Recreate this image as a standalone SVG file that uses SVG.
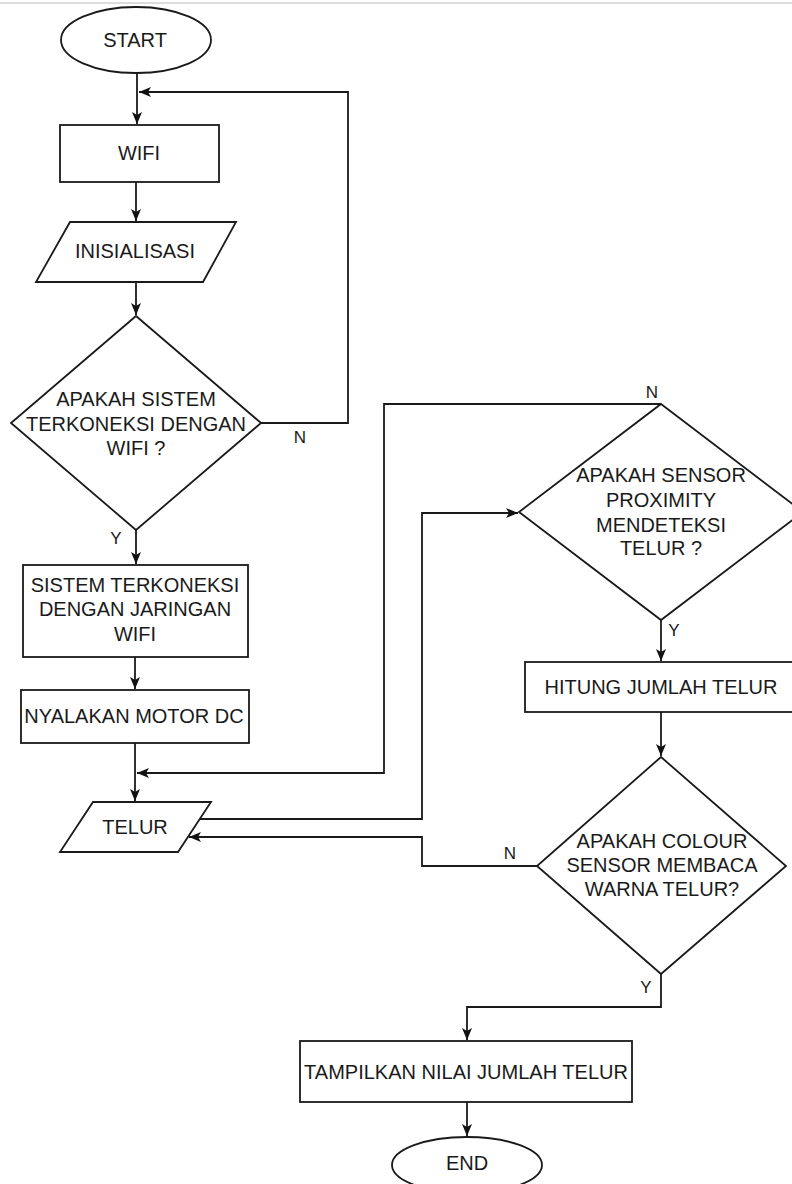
<svg xmlns="http://www.w3.org/2000/svg" width="792" height="1184" viewBox="0 0 792 1184">
<style>
.s{fill:#fff;stroke:#1a1a1a;stroke-width:1.8}
.c{fill:none;stroke:#1a1a1a;stroke-width:1.8}
text{font-family:"Liberation Sans",Arial,sans-serif;font-size:20px;fill:#1a1a1a;text-anchor:middle}
.l{font-size:17px}
</style>
<defs>
<marker id="a" markerWidth="14" markerHeight="12" refX="12" refY="5" orient="auto" markerUnits="userSpaceOnUse">
<path d="M0,0 L12,5 L0,10 L3,5 z" fill="#111"/>
</marker>
</defs>
<rect width="792" height="1184" fill="#fff"/>
<line x1="0" y1="3" x2="792" y2="3" stroke="#dcdcdc" stroke-width="2"/>
<g id="connectors">
<path class="c" d="M137,73 V124" marker-end="url(#a)"/>
<path class="c" d="M261,423 H348 V92 H139" marker-end="url(#a)"/>
<path class="c" d="M136,182 V221" marker-end="url(#a)"/>
<path class="c" d="M136,282 V315" marker-end="url(#a)"/>
<path class="c" d="M136,530 V564" marker-end="url(#a)"/>
<path class="c" d="M135,657 V689" marker-end="url(#a)"/>
<path class="c" d="M135,743 V801" marker-end="url(#a)"/>
<path class="c" d="M661,404 H384 V773 H137" marker-end="url(#a)"/>
<path class="c" d="M200,819 H422 V513 H518" marker-end="url(#a)"/>
<path class="c" d="M537,866 H422 V837 H189" marker-end="url(#a)"/>
<path class="c" d="M661,620 V661" marker-end="url(#a)"/>
<path class="c" d="M661,712 V756" marker-end="url(#a)"/>
<path class="c" d="M661,974 V1007 H467 V1040" marker-end="url(#a)"/>
<path class="c" d="M467,1102 V1136" marker-end="url(#a)"/>
<text class="l" x="300" y="443">N</text>
<text class="l" x="116" y="544">Y</text>
<text class="l" x="652" y="398">N</text>
<text class="l" x="674" y="636">Y</text>
<text class="l" x="510" y="859">N</text>
<text class="l" x="646" y="993">Y</text>
</g>
<g id="start">
<ellipse class="s" cx="136" cy="40" rx="75" ry="33"/>
<text x="135" y="47">START</text>
</g>
<g id="wifi">
<rect class="s" x="60" y="125" width="159" height="57"/>
<text x="139" y="160">WIFI</text>
</g>
<g id="inisialisasi">
<polygon class="s" points="70,222 236,222 203,282 36,282"/>
<text x="135" y="258">INISIALISASI</text>
</g>
<g id="cek-wifi">
<polygon class="s" points="136,316 261,423 136,530 11,423"/>
<text x="136" y="406">APAKAH SISTEM</text>
<text x="136" y="431">TERKONEKSI DENGAN</text>
<text x="136" y="455">WIFI ?</text>
</g>
<g id="terkoneksi">
<rect class="s" x="23" y="565" width="225" height="92"/>
<text x="135" y="592">SISTEM TERKONEKSI</text>
<text x="135" y="616">DENGAN JARINGAN</text>
<text x="135" y="641">WIFI</text>
</g>
<g id="motor">
<rect class="s" x="21" y="690" width="228" height="53"/>
<text x="134" y="723">NYALAKAN MOTOR DC</text>
</g>
<g id="telur">
<polygon class="s" points="93,802 211,802 178,852 60,852"/>
<text x="135" y="834">TELUR</text>
</g>
<g id="cek-proximity">
<polygon class="s" points="661,404 803,512 661,620 519,512"/>
<text x="661" y="482">APAKAH SENSOR</text>
<text x="661" y="507">PROXIMITY</text>
<text x="661" y="532">MENDETEKSI</text>
<text x="661" y="555">TELUR ?</text>
</g>
<g id="hitung">
<rect class="s" x="525" y="662" width="272" height="50"/>
<text x="661" y="694">HITUNG JUMLAH TELUR</text>
</g>
<g id="cek-warna">
<polygon class="s" points="661,757 786,866 661,974 537,866"/>
<text x="662" y="848">APAKAH COLOUR</text>
<text x="662" y="872">SENSOR MEMBACA</text>
<text x="662" y="896">WARNA TELUR?</text>
</g>
<g id="tampilkan">
<rect class="s" x="300" y="1041" width="332" height="61"/>
<text x="466" y="1079">TAMPILKAN NILAI JUMLAH TELUR</text>
</g>
<g id="end">
<ellipse class="s" cx="467" cy="1165" rx="75" ry="28"/>
<text x="467" y="1170">END</text>
</g>
</svg>
